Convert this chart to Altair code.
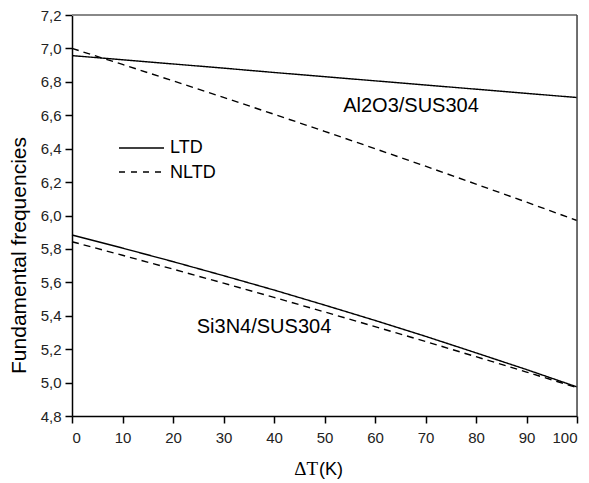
import altair as alt
import pandas as pd

# ---- data ----
delta_t = [0, 10, 20, 30, 40, 50, 60, 70, 80, 90, 100]
al_ltd = [6.957, 6.932, 6.907, 6.882, 6.856, 6.831, 6.806, 6.781, 6.756, 6.731, 6.706]
al_nltd = [7.000, 6.904, 6.806, 6.707, 6.606, 6.504, 6.400, 6.295, 6.188, 6.080, 5.970]
si_ltd = [5.883, 5.805, 5.724, 5.640, 5.554, 5.464, 5.372, 5.277, 5.178, 5.078, 4.974]
si_nltd = [5.843, 5.762, 5.679, 5.595, 5.510, 5.423, 5.335, 5.246, 5.155, 5.063, 4.970]

x_ticks = [0, 10, 20, 30, 40, 50, 60, 70, 80, 90, 100]
y_ticks = [4.8, 5.0, 5.2, 5.4, 5.6, 5.8, 6.0, 6.2, 6.4, 6.6, 6.8, 7.0, 7.2]

series = [
    ("Al2O3/SUS304", "LTD", al_ltd),
    ("Al2O3/SUS304", "NLTD", al_nltd),
    ("Si3N4/SUS304", "LTD", si_ltd),
    ("Si3N4/SUS304", "NLTD", si_nltd),
]
rows = []
for mat, model, vals in series:
    for x, y in zip(delta_t, vals):
        rows.append({"dT": x, "f": y, "material": mat, "model": model})
df = pd.DataFrame(rows)

FONT = "Liberation Sans"
W, H = 505, 401

lines = alt.Chart(df).mark_line(color="black", strokeWidth=1.4).encode(
    x=alt.X("dT:Q", scale=alt.Scale(domain=[0, 100], nice=False),
            axis=alt.Axis(values=x_ticks, title=None, grid=False, tickSize=7,
                          labelPadding=7, labelFontSize=15, labelFont=FONT,
                          labelColor="#222", domainColor="black", domainWidth=1.5,
                          tickColor="black", tickWidth=1.5)),
    y=alt.Y("f:Q", scale=alt.Scale(domain=[4.8, 7.2], nice=False, zero=False),
            axis=alt.Axis(values=y_ticks, grid=False, tickSize=7, labelPadding=4,
                          labelFontSize=15, labelFont=FONT, labelColor="#222",
                          labelExpr="replace(format(datum.value, '.1f'), '.', ',')",
                          domainColor="black", domainWidth=1.5,
                          tickColor="black", tickWidth=1.5,
                          title="Fundamental frequencies", titleFont=FONT,
                          titleFontSize=21, titleFontWeight="normal",
                          titleColor="black", titleAngle=270,
                          titleAlign="center", titleBaseline="alphabetic",
                          titleX=-47, titleY=240)),
    strokeDash=alt.StrokeDash("model:N",
                              scale=alt.Scale(domain=["LTD", "NLTD"], range=[[1, 0], [7, 5]]),
                              legend=None),
    detail="material:N",
)

# frame (top and right)
top_rule = alt.Chart().mark_rule(color="#888888", strokeWidth=2).encode(
    x=alt.value(0), x2=alt.value(W), y=alt.value(0))
right_rule = alt.Chart().mark_rule(color="#444444", strokeWidth=1.5).encode(
    x=alt.value(W), y=alt.value(0), y2=alt.value(H))

# legend (manual)
leg_solid = alt.Chart().mark_rule(color="black", strokeWidth=1.3).encode(
    x=alt.value(47), x2=alt.value(92), y=alt.value(133))
leg_dash = alt.Chart().mark_rule(color="black", strokeWidth=1.3, strokeDash=[6, 6]).encode(
    x=alt.value(47), x2=alt.value(92), y=alt.value(157))
leg_t1 = alt.Chart().mark_text(text="LTD", align="left", baseline="middle",
                               font=FONT, fontSize=18, color="black").encode(
    x=alt.value(98), y=alt.value(133))
leg_t2 = alt.Chart().mark_text(text="NLTD", align="left", baseline="middle",
                               font=FONT, fontSize=18, color="black").encode(
    x=alt.value(98), y=alt.value(158))

# annotations
ann1 = alt.Chart().mark_text(text="Al2O3/SUS304", align="center", baseline="alphabetic",
                             font=FONT, fontSize=20, color="black").encode(
    x=alt.value(339), y=alt.value(97))
ann2 = alt.Chart().mark_text(text="Si3N4/SUS304", align="center", baseline="alphabetic",
                             font=FONT, fontSize=20, color="black").encode(
    x=alt.value(192), y=alt.value(318))

# x axis title: ΔT in serif, (K) in sans
xt1 = alt.Chart().mark_text(text="ΔT", align="right", baseline="alphabetic",
                            font="Liberation Serif", fontSize=19, color="black").encode(
    x=alt.value(246), y=alt.value(460))
xt2 = alt.Chart().mark_text(text="(K)", align="left", baseline="alphabetic",
                            font=FONT, fontSize=18, color="black").encode(
    x=alt.value(247), y=alt.value(460))

chart = alt.layer(
    lines, top_rule, right_rule, leg_solid, leg_dash, leg_t1, leg_t2, ann1, ann2, xt1, xt2
).properties(
    width=W, height=H,
    autosize=alt.AutoSizeParams(type="none"),
    padding={"left": 72, "top": 15, "right": 12, "bottom": 67},
).configure_view(stroke=None).configure(background="white")

chart.save("out.html", embed_options={"renderer": "svg", "actions": False})
